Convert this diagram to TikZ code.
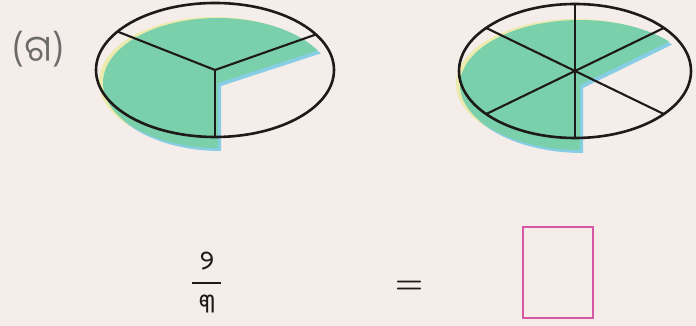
\documentclass[tikz,border=0pt]{standalone}
\usepackage{fontspec}
\newfontfamily\odia[Script=Oriya]{Noto Sans Oriya UI}
\definecolor{paper}{RGB}{244,237,233}
\definecolor{mint}{RGB}{122,208,170}
\definecolor{skyedge}{RGB}{135,205,228}
\definecolor{yellowedge}{RGB}{236,234,172}
\definecolor{boxpink}{RGB}{214,88,165}
\definecolor{ink}{RGB}{30,26,26}
\begin{document}
\begin{tikzpicture}[x=1pt, y=1pt,
    rim/.style={draw=ink, line width=2.6pt},
    spoke/.style={draw=ink, line width=2.1pt},
    pie/.style={fill=mint}]
\fill[paper] (0,0) rectangle (696,326);
\useasboundingbox (0,0) rectangle (696,326);
\node[text=ink!65, font=\odia\fontsize{36}{40}\selectfont] (label) at (38,277) {(ଗ)};
\fill[yellowedge] (214,244) -- +({115*cos(30)},{65*sin(30)}) arc[start angle=30, end angle=270, x radius=115pt, y radius=65pt] -- cycle;
\fill[skyedge] (221,240) -- +({115*cos(30)},{65*sin(30)}) arc[start angle=30, end angle=270, x radius=115pt, y radius=65pt] -- cycle;
\fill[pie] (218,243) -- +({115*cos(30)},{65*sin(30)}) arc[start angle=30, end angle=270, x radius=115pt, y radius=65pt] -- cycle;
\draw[rim] (215,256) ellipse[x radius=119pt, y radius=67pt];
\foreach \a in {32,145,270}
  \draw[spoke] (215,256) -- ({215+119*cos(\a)},{256+67*sin(\a)});
\fill[yellowedge] (576,242) -- +({120*cos(42)},{65*sin(42)}) arc[start angle=42, end angle=270, x radius=120pt, y radius=65pt] -- cycle;
\fill[skyedge] (583,238) -- +({120*cos(42)},{65*sin(42)}) arc[start angle=42, end angle=270, x radius=120pt, y radius=65pt] -- cycle;
\fill[pie] (580,241) -- +({120*cos(42)},{65*sin(42)}) arc[start angle=42, end angle=270, x radius=120pt, y radius=65pt] -- cycle;
\draw[rim] (575,255) ellipse[x radius=116pt, y radius=67pt];
\foreach \a in {40,90,140,220,270,320}
  \draw[spoke] (575,255) -- ({575+116*cos(\a)},{255+67*sin(\a)});
\node[text=ink, font=\odia\fontsize{27}{30}\selectfont] (num) at (207,64) {୨};
\node[text=ink, font=\odia\fontsize{27}{30}\selectfont] (den) at (207,21) {୩};
\draw[ink, line width=2pt] (192,43) -- (221,43);
\node[text=ink, font=\bfseries\fontsize{32}{34}\selectfont] (equals) at (409,39) {=};
\node[draw=boxpink, line width=2pt, minimum width=70pt, minimum height=91pt, inner sep=0pt] (answer) at (557.5,53) {};
\end{tikzpicture}
\end{document}
